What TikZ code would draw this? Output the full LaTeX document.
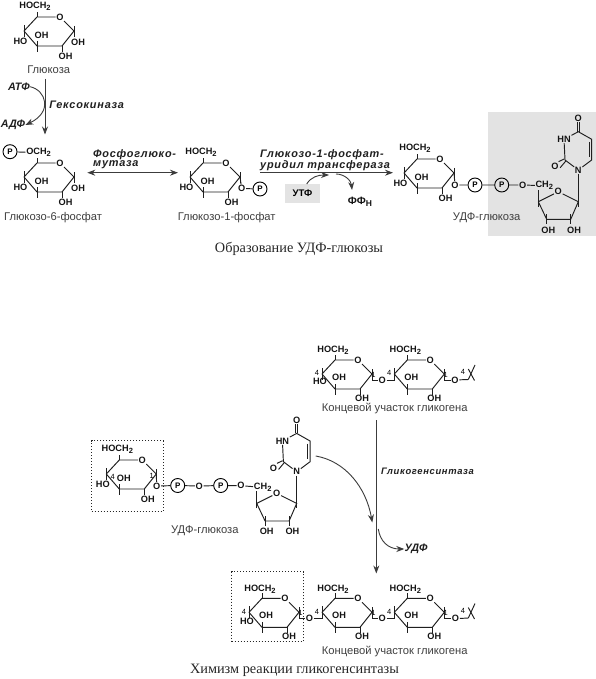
\documentclass[tikz,border=0pt]{standalone}
\usepackage{fontspec}
\setmainfont{Liberation Sans}
\newfontfamily\capf{Liberation Serif}
\newfontfamily\enzf[LetterSpace=7]{Liberation Sans}
\usetikzlibrary{arrows.meta}
\definecolor{greybg}{HTML}{E3E3E3}
\definecolor{arrowc}{HTML}{3C3C3C}
\newcommand{\subtwo}{\raisebox{-2pt}{\fontsize{7.5}{7.5}\selectfont 2}}
\tikzset{
  chem/.style={inner sep=0.6pt,font=\fontsize{9.2}{9}\selectfont\bfseries,text=black!92},
  numlbl/.style={inner sep=0pt,font=\fontsize{7.5}{8}\selectfont},
  lbl/.style={inner sep=0pt,font=\fontsize{11.2}{11}\selectfont,text=black!75},
  enz/.style={inner sep=0pt,font=\enzf\fontsize{10.9}{11}\selectfont\bfseries\itshape,text=black!88},
  cof/.style={inner sep=0pt,font=\fontsize{10.8}{11}\selectfont\bfseries\itshape,text=black!88},
  capt/.style={inner sep=0pt,font=\capf\fontsize{14.3}{14}\selectfont,text=black!85},
  pcirc/.style={circle,draw,line width=0.9pt,minimum size=14pt,inner sep=0pt,font=\fontsize{8}{8}\selectfont\bfseries},
  bond/.style={line width=0.95pt,black!88},
  rx/.style={line width=0.9pt,arrowc,-{Stealth[length=8pt,width=6pt]}},
  rxd/.style={line width=0.9pt,arrowc,{Stealth[length=8pt,width=6pt]}-{Stealth[length=8pt,width=6pt]}},
  dotbox/.style={draw,dotted,line width=1pt,black!85},
  pics/ring/.style={code={
    \coordinate (-c5) at (0,0);
    \coordinate (-c1) at (37,14);
    \coordinate (-c2) at (25,29);
    \coordinate (-c3) at (0,29);
    \coordinate (-c4) at (-13,14);
    \node[chem] (-o) at (23,0) {O};
    \draw[bond,line join=round] (-o) -- (-c1) -- (-c2) -- (-c3) -- (-c4) -- (-c5) -- (-o);
    \draw[bond] (-c5) -- ++(0,-5);
    \draw[bond] (-c4) ++(0,-6) -- ++(0,12);
    \draw[bond] (-c3) ++(0,-5) -- ++(0,11);
    \draw[bond] (-c2) -- ++(0,6);
    \draw[bond] (-c1) ++(0,-5) -- ++(0,11);
  }},
  pics/glc/.style={code={
    \pic (-r) {ring};
    \node[chem] (-ch) at (-2,-10.5) {HOCH\subtwo};
    \node[chem] (-ho) at (-16.5,24) {HO};
    \node[chem] (-oh) at (4.5,18.7) {OH};
    \node[chem] (-oh2) at (28.5,39) {OH};
  }},
  pics/res/.style={code={
    \pic (-r) {ring};
    \node[chem] (-ch) at (-2,-9.5) {HOCH\subtwo};
    \node[chem] (-oh) at (4,17) {OH};
    \node[chem] (-oh2) at (27,38) {OH};
    \node[numlbl] (-n4) at (-18,13.3) {4};
    \node[numlbl] (-n1) at (38.5,15) {1};
  }},
  pics/urd/.style={code={
    \node[chem] (-o4) at (0,0) {O};
    \coordinate (-c4) at (0,13.4);
    \node[chem] (-n3) at (-14.3,21) {HN};
    \coordinate (-c2) at (-13.3,41.7);
    \node[chem] (-o2) at (-23.3,48.4) {O};
    \node[chem] (-n1) at (0,51.7) {N};
    \coordinate (-c6) at (13.4,41.7);
    \coordinate (-c5) at (13.4,21);
    \draw[bond] (-n3) -- (-c4) -- (-c5) -- (-c6) -- (-n1) -- (-c2) -- (-n3);
    \draw[bond] (-c5) ++(-2.6,2.5) -- ++(0,15.5);
    \draw[bond] ([xshift=-1.2pt]-o4.south) -- ([xshift=-1.2pt]-c4);
    \draw[bond] ([xshift=1.2pt]-o4.south) -- ([xshift=1.2pt]-c4);
    \draw[bond] ([shift={(-0.8,-1)}]-c2) -- ([shift={(-0.8,-1)}]-o2.north east);
    \draw[bond] ([shift={(0.8,1)}]-c2) -- ([shift={(0.8,1)}]-o2.east);
    \node[chem] (-ro) at (-20,73.4) {O};
    \coordinate (-r1) at (0,83.4);
    \coordinate (-r2) at (-7.6,101);
    \coordinate (-r3) at (-31.6,101);
    \coordinate (-r4) at (-40,83.4);
    \draw[bond] (-r4) -- (-ro) -- (-r1) -- (-r2) -- (-r3) -- (-r4);
    \draw[bond] (-n1) -- (-r1) -- ++(0,5);
    \draw[bond] (-r4) ++(0,5) -- ++(0,-17);
    \draw[bond] (-r2) ++(0,-5) -- ++(0,10);
    \draw[bond] (-r3) ++(0,-5) -- ++(0,10);
    \node[chem] (-oh3) at (-30,111.7) {OH};
    \node[chem] (-oh2) at (-4.3,111.7) {OH};
    \node[chem] (-ch) at (-34,67.4) {CH\subtwo};
  }},
}
\begin{document}
\begin{tikzpicture}[x=1pt,y=-1pt]
\useasboundingbox (0,0) rectangle (596,679);
\fill[white] (0,0) rectangle (596,679);
% grey panels
\node[fill=greybg,minimum width=108pt,minimum height=124pt,inner sep=0pt,anchor=north west] (panel) at (488,112) {};
\node[fill=greybg,minimum width=35pt,minimum height=19pt,inner sep=0pt,font=\fontsize{9.6}{10}\selectfont\bfseries] (utp) at (302.5,193.5) {УТФ};

% Glucose
\pic (g) at (37,17) {glc};
\node[chem] (g-ohr) at (78,42) {OH};
\node[lbl] (g-name) at (48.7,70) {Глюкоза};
% Hexokinase
\coordinate (hk-a) at (45,79);
\coordinate (hk-b) at (45,134.5);
\draw[rx] (hk-a) -- (hk-b);
\node[cof] (atf) at (19,86.7) {АТФ};
\node[cof] (adf) at (13,125) {АДФ};
\draw[rx] (atf.east) .. controls (46,90) and (53,112) .. (adf.east);
\node[enz] (hk) at (86.7,105) {Гексокиназа};

% G6P
\pic (g6) at (37,163) {ring};
\node[chem] (g6-ch) at (38.6,152.7) {OCH\subtwo};
\node[pcirc] (g6-p) at (10,151.7) {P};
\draw[bond] (g6-p) -- (g6-ch);
\node[chem] (g6-ho) at (20.5,187) {HO};
\node[chem] (g6-oh) at (41.5,181.7) {OH};
\node[chem] (g6-oh2) at (65.5,202) {OH};
\node[chem] (g6-ohr) at (78,188) {OH};
\node[lbl] (g6-name) at (53,217.7) {Глюкозо-6-фосфат};

% mutase arrow
\coordinate (mu-a) at (87.3,172.7);
\coordinate (mu-b) at (178,172.7);
\draw[rxd] (mu-a) -- (mu-b);
\node[enz,anchor=west] (mu1) at (93,154.5) {Фосфоглюко-};
\node[enz,anchor=west] (mu2) at (93,165) {мутаза};

% G1P
\pic (g1) at (203,163) {glc};
\node[chem] (g1-o) at (241.7,188.5) {O};
\node[pcirc] (g1-p) at (260,189) {P};
\draw[bond] (g1-r-c1) -- (g1-o);
\draw[bond] (g1-o) -- (g1-p);
\node[lbl] (g1-name) at (226.7,217.7) {Глюкозо-1-фосфат};

% transferase
\coordinate (tr-a) at (260,172.7);
\coordinate (tr-b) at (393,172.7);
\draw[rx] (tr-a) -- (tr-b);
\node[enz,anchor=west] (tr1) at (260,154.5) {Глюкозо-1-фосфат-};
\node[enz,anchor=west] (tr2) at (260,165.5) {уридил трансфераза};
\coordinate (utp-a) at (306.7,184);
\coordinate (utp-b) at (329,175);
\draw[rx] (utp-a) .. controls (311,177) and (318,175) .. (utp-b);
\coordinate (pp-a) at (336,174);
\coordinate (pp-b) at (352,190);
\draw[rx] (pp-a) .. controls (344,174) and (351,180) .. (pp-b);
\node[chem,font=\fontsize{10.6}{11}\selectfont\bfseries] (pp) at (360,201.7) {ФФ\raisebox{-2pt}{\fontsize{8.5}{8}\selectfont H}};

% UDP-glucose 1
\pic (u) at (417,159) {glc};
\node[chem] (u-o) at (455,185) {O};
\node[pcirc] (u-p1) at (475,185) {P};
\node[pcirc] (u-p2) at (501.7,185) {P};
\node[chem] (u-o2) at (522.7,185) {O};
\pic (ur) at (578.3,118.3) {urd};
\draw[bond] (u-r-c1) -- (u-o);
\draw[bond] (u-o) -- (u-p1) -- (u-p2) -- (u-o2) -- (ur-ch);
\node[lbl] (u-name) at (486.7,217.3) {УДФ-глюкоза};
\node[capt] (cap1) at (299,248.5) {Образование УДФ-глюкозы};

% Glycogen top
\pic (t1) at (335,360) {res};
\node[chem] (t1-ho) at (320,381.7) {HO};
\pic (t2) at (407.3,360) {res};
\node[chem] (t-o1) at (382.3,380) {O};
\node[chem] (t-o2) at (455,380) {O};
\coordinate (t-x) at (468.3,379.5);
\draw[bond] (t1-r-c1) |- (t-o1);
\draw[bond] (t-o1) -| (t2-r-c4);
\draw[bond] (t2-r-c1) |- (t-o2);
\draw[bond] (t-o2) -- (t-x);
\draw[bond] (468.3,369) -- (474.5,380.5);
\draw[bond] (t-x) -- (475,365);
\node[numlbl] (t-n4) at (463,372) {4};
\node[lbl] (t-name) at (394.7,408.3) {Концевой участок гликогена};

% main arrow
\coordinate (gs-a) at (376.3,420);
\coordinate (gs-b) at (376.3,573.5);
\draw[rx] (gs-a) -- (gs-b);
\node[enz,font=\enzf\fontsize{9.4}{10}\selectfont\bfseries\itshape] (gs) at (427.5,471) {Гликогенсинтаза};
\coordinate (cv-a) at (315.7,456);
\coordinate (cv-b) at (372.3,522.5);
\draw[rx] (cv-a) .. controls (345,461) and (366,487) .. (cv-b);
\coordinate (ud-a) at (378.3,529);
\node[cof] (udf) at (416,549) {УДФ};
\draw[rx] (ud-a) .. controls (380,541) and (388,549) .. (udf.west);

% UDP-glucose 2
\node[dotbox,minimum width=71.6pt,minimum height=70.3pt,inner sep=0pt] (box2) at (127.5,475.9) {};
\pic (v) at (119.3,460) {glc};
\node[numlbl] (v-n4) at (112.7,476.7) {4};
\node[numlbl] (v-n1) at (151.7,476) {1};
\node[chem] (v-o) at (156.7,486) {O};
\node[pcirc] (v-p1) at (177.7,485.5) {P};
\node[chem] (v-o1) at (199.3,486) {O};
\node[pcirc] (v-p2) at (220.7,485.5) {P};
\node[chem] (v-o2) at (241,485.7) {O};
\pic (vr) at (296.7,420) {urd};
\draw[bond] (v-r-c1) -- (v-o);
\draw[bond] (v-o) -- (v-p1) -- (v-o1) -- (v-p2) -- (v-o2) -- (vr-ch);
\node[lbl] (v-name) at (204.8,530.7) {УДФ-глюкоза};

% Glycogen bottom
\node[dotbox,minimum width=71.6pt,minimum height=70pt,inner sep=0pt] (box3) at (267.5,606.7) {};
\pic (b1) at (262,598.3) {res};
\node[chem] (b1-ho) at (247,621.7) {HO};
\pic (b2) at (335,598.3) {res};
\pic (b3) at (407.3,598.3) {res};
\node[chem] (b-o1) at (309.5,618.7) {O};
\node[chem] (b-o2) at (382.3,618.7) {O};
\node[chem] (b-o3) at (455.5,618.7) {O};
\coordinate (b-x) at (468.3,618);
\draw[bond] (b1-r-c1) |- (b-o1);
\draw[bond] (b-o1) -| (b2-r-c4);
\draw[bond] (b2-r-c1) |- (b-o2);
\draw[bond] (b-o2) -| (b3-r-c4);
\draw[bond] (b3-r-c1) |- (b-o3);
\draw[bond] (b-o3) -- (b-x);
\draw[bond] (468.3,607.5) -- (474.5,619);
\draw[bond] (b-x) -- (475,603.5);
\node[numlbl] (b-n4) at (463,611) {4};
\node[lbl] (b-name) at (394.7,651.5) {Концевой участок гликогена};
\node[capt] (cap2) at (294.5,670) {Химизм реакции гликогенсинтазы};
\end{tikzpicture}
\end{document}
